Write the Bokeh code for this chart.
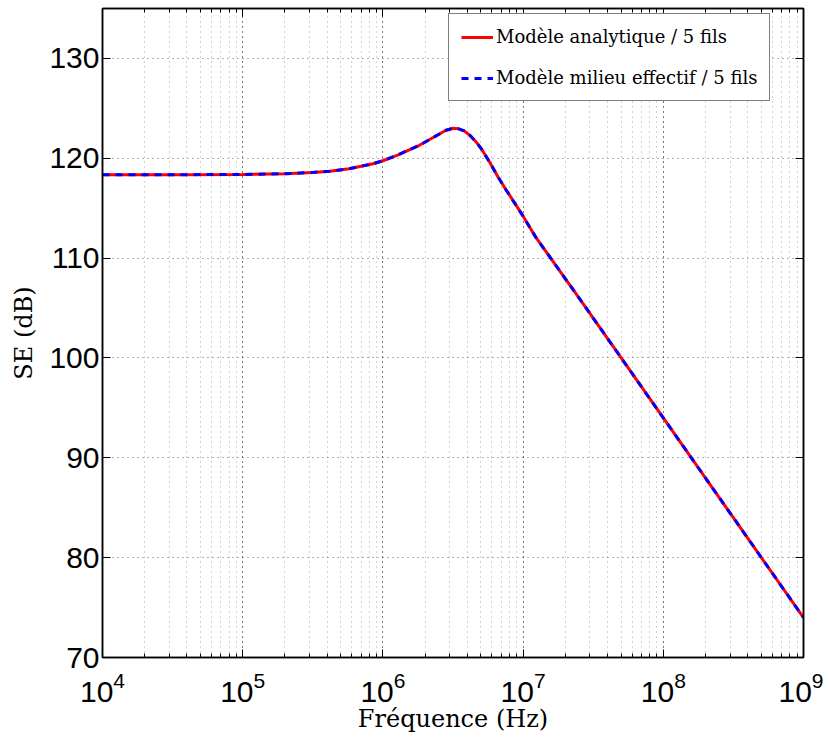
from bokeh.plotting import figure
from bokeh.models import (LogAxis, LinearAxis, FixedTicker, LogTicker, Range1d,
                          Legend, LegendItem, CustomJSTickFormatter)
from bokeh.embed import file_html
from bokeh.resources import INLINE

# Data (frequency in Hz, shielding effectiveness in dB)
freq = [1e4, 3.16e4, 1e5, 2e5, 3.16e5, 4.17e5, 5.75e5, 8.51e5, 1e6, 1.26e6,
        1.82e6, 2.51e6, 2.82e6, 3.16e6, 3.47e6, 3.8e6, 4.17e6, 4.68e6, 5.01e6,
        5.75e6, 6.61e6, 7.59e6, 1e7, 1.23e7, 2.51e7, 5.01e7, 1e8, 3.16e8, 1e9]
se_analytique = [118.35, 118.35, 118.38, 118.45, 118.58, 118.7, 118.95, 119.45,
                 119.75, 120.3, 121.3, 122.4, 122.8, 123.0, 122.95, 122.75,
                 122.3, 121.55, 121.0, 119.65, 118.15, 116.8, 114.2, 112.1,
                 106.0, 100.0, 94.0, 84.0, 74.0]
se_effectif = [118.35, 118.35, 118.38, 118.45, 118.58, 118.7, 118.95, 119.45,
               119.75, 120.3, 121.3, 122.4, 122.8, 123.0, 122.95, 122.75,
               122.3, 121.55, 121.0, 119.65, 118.15, 116.8, 114.2, 112.1,
               106.0, 100.0, 94.0, 84.0, 74.0]
y_ticks = [70, 80, 90, 100, 110, 120, 130]

p = figure(width=823, height=735, x_axis_type="log",
           x_range=Range1d(1e4, 1e9), y_range=Range1d(70, 135),
           output_backend="svg", toolbar_location=None,
           min_border_left=102, min_border_right=20, min_border_top=8,
           min_border_bottom=72)
p.background_fill_color = "white"
p.outline_line_color = "black"
p.outline_line_width = 1.5

xa = p.xaxis[0]
xa.ticker = LogTicker(desired_num_ticks=6, num_minor_ticks=10)
ya = p.yaxis[0]
ya.ticker = FixedTicker(ticks=y_ticks)
for ax in (xa, ya):
    ax.major_label_text_font = "Liberation Sans"
    ax.major_label_text_font_size = "30px"
    ax.major_label_text_color = "black"
    ax.axis_line_color = "black"
    ax.axis_line_width = 1.5
    ax.major_tick_in = 8
    ax.major_tick_out = 0
    ax.minor_tick_in = 4
    ax.minor_tick_out = 0
    ax.major_tick_line_color = "black"
    ax.minor_tick_line_color = "black"
    ax.axis_label_text_font = "DejaVu Serif"
    ax.axis_label_text_font_style = "normal"
    ax.axis_label_text_font_size = "24px"
    ax.axis_label_text_color = "black"
ya.minor_tick_line_color = None
ya.major_label_standoff = 3
xa.major_label_standoff = 14
xa.axis_label = "Fréquence (Hz)"
ya.axis_label = "SE (dB)"
xa.axis_label_standoff = 0
ya.axis_label_standoff = 8

blank = "return ''"
top = LogAxis(ticker=LogTicker(desired_num_ticks=6, num_minor_ticks=10),
              formatter=CustomJSTickFormatter(code=blank),
              major_label_standoff=0, major_tick_in=8, major_tick_out=0,
              minor_tick_in=4, minor_tick_out=0, axis_line_width=1.5)
right = LinearAxis(ticker=FixedTicker(ticks=y_ticks),
                   formatter=CustomJSTickFormatter(code=blank),
                   major_label_standoff=0, major_tick_in=8, major_tick_out=0,
                   minor_tick_line_color=None, axis_line_width=1.5)
p.add_layout(top, "above")
p.add_layout(right, "right")

p.xgrid.ticker = xa.ticker
p.xgrid.grid_line_color = "black"
p.xgrid.grid_line_alpha = 0.6
p.xgrid.grid_line_dash = "1 4"
p.xgrid.minor_grid_line_color = "black"
p.xgrid.minor_grid_line_alpha = 0.35
p.xgrid.minor_grid_line_dash = "1 4"
p.ygrid.ticker = ya.ticker
p.ygrid.grid_line_color = "black"
p.ygrid.grid_line_alpha = 0.6
p.ygrid.grid_line_dash = "1 4"

r1 = p.line(freq, se_analytique, line_color="red", line_width=3)
r2 = p.line(freq, se_effectif, line_color="blue", line_width=3, line_dash="7 6")

legend = Legend(items=[LegendItem(label="Modèle analytique / 5 fils", renderers=[r1]),
                       LegendItem(label="Modèle milieu effectif / 5 fils", renderers=[r2])],
                location=(346, 556))
legend.label_text_font = "DejaVu Serif"
legend.label_text_font_size = "18px"
legend.label_text_color = "black"
legend.glyph_width = 32
legend.glyph_height = 20
legend.label_standoff = 3
legend.spacing = 20
legend.padding = 12
legend.margin = 0
legend.border_line_color = "black"
legend.border_line_width = 1.5
legend.background_fill_alpha = 1
p.add_layout(legend, "center")

open("out.html", "w").write(file_html(p, INLINE))
